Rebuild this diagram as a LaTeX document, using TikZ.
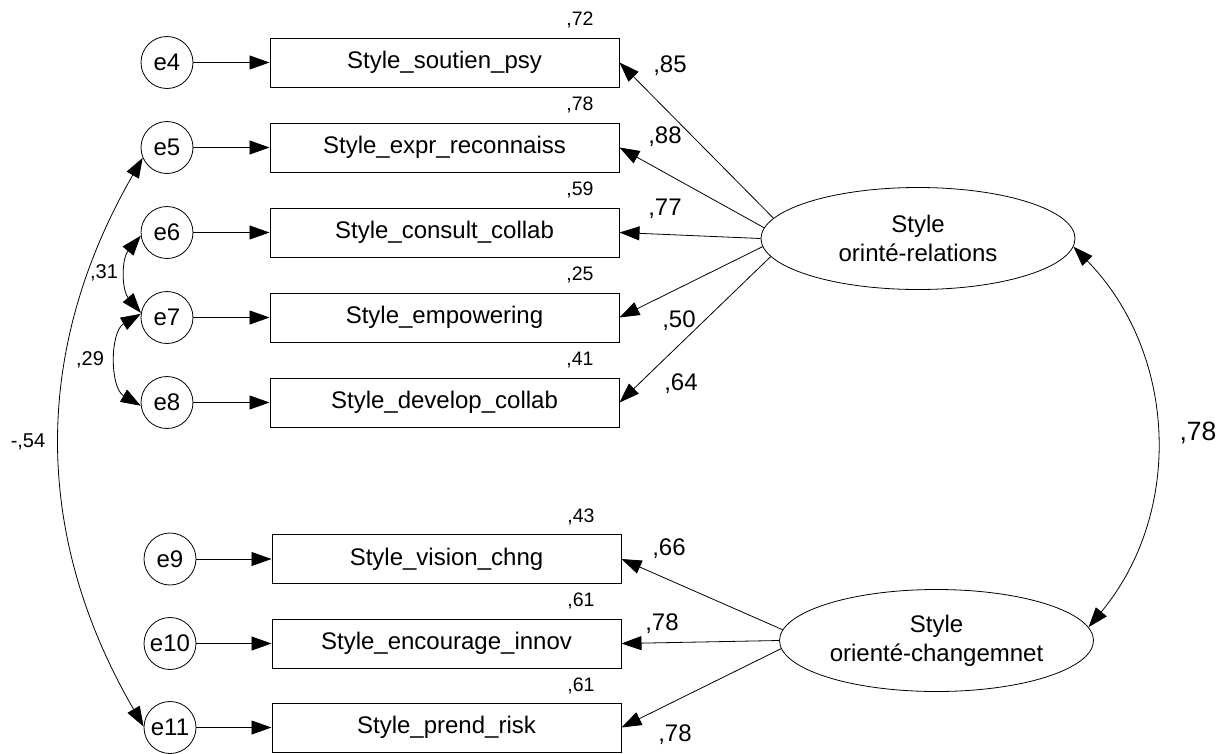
\documentclass[tikz,border=0pt]{standalone}
\usepackage{fontspec}
\setmainfont{Liberation Sans}
\usetikzlibrary{arrows.meta,shapes.geometric}
\begin{document}
\begin{tikzpicture}[x=1pt,y=-1pt,
  >={Triangle[length=20pt,width=14pt]},
  conn/.style={->,line width=0.8pt},
  cov/.style={<->,line width=0.8pt},
  obs/.style={draw,line width=1pt,minimum width=349pt,minimum height=49pt,inner sep=0pt,font=\fontsize{24}{29}\selectfont},
  err/.style={draw,circle,line width=0.8pt,minimum size=52pt,inner sep=0pt,font=\fontsize{24}{29}\selectfont},
  lat/.style={draw,ellipse,line width=0.8pt,minimum width=314pt,minimum height=102pt,inner sep=0pt,align=center,font=\fontsize{24}{29}\selectfont},
  rsq/.style={font=\fontsize{19.5}{22}\selectfont,inner sep=0pt},
  ld/.style={font=\fontsize{24}{28}\selectfont,inner sep=0pt},
  cl/.style={font=\fontsize{20}{24}\selectfont,inner sep=0pt},
  big/.style={font=\fontsize{26.5}{30}\selectfont,inner sep=0pt},
]
\useasboundingbox (0,0) rectangle (1227,753);

% error terms
\node[err] (e4) at (167,62.5) {e4};
\node[err] (e5) at (167,147.5) {e5};
\node[err] (e6) at (167,232.5) {e6};
\node[err] (e7) at (167,317.5) {e7};
\node[err] (e8) at (167,402.5) {e8};
\node[err] (e9) at (170,559) {e9};
\node[err] (e10) at (170,643.5) {e10};
\node[err] (e11) at (170,727.5) {e11};

% observed variables
\node[obs] (b4) at (444.5,62.5) {Style\_soutien\_psy};
\node[obs] (b5) at (444.5,147.5) {Style\_expr\_reconnaiss};
\node[obs] (b6) at (444.5,232.5) {Style\_consult\_collab};
\node[obs] (b7) at (444.5,317.5) {Style\_empowering};
\node[obs] (b8) at (444.5,402.5) {Style\_develop\_collab};
\node[obs] (b9) at (446.5,559) {Style\_vision\_chng};
\node[obs] (b10) at (446.5,643.5) {Style\_encourage\_innov};
\node[obs] (b11) at (446.5,727.5) {Style\_prend\_risk};

% latent variables
\node[lat] (rel) at (918,238.5) {Style\\orinté-relations};
\node[lat] (chg) at (936.5,640.5) {Style\\orienté-changemnet};

% error arrows
\foreach \i in {4,...,11} \draw[conn] (e\i) -- (b\i);

% loadings
\draw[conn] (rel.172.6) -- (b4.east);
\draw[conn] (rel.176.3) -- (b5.east);
\draw[conn] (rel.180) -- (b6.east);
\draw[conn] (rel.183.7) -- (b7.east);
\draw[conn] (rel.187.3) -- (b8.east);
\draw[conn] (chg.176.3) -- (b9.east);
\draw[conn] (chg.180) -- (b10.east);
\draw[conn] (chg.183.3) -- (b11.east);

% covariances
\draw[cov] (e5.203) to[bend right=30] (e11.178);
\draw[cov] (e6.187) to[bend right=40] (e7.170);
\draw[cov] (e7.172) to[bend right=60] (e8.187);
\draw[cov] (rel.-3) to[bend left=42] (chg.5);

% R squared
\node[rsq] (r4) at (580,20) {,72};
\node[rsq] (r5) at (580,105) {,78};
\node[rsq] (r6) at (580,190) {,59};
\node[rsq] (r7) at (580,275) {,25};
\node[rsq] (r8) at (580,360) {,41};
\node[rsq] (r9) at (581,517) {,43};
\node[rsq] (r10) at (581,601) {,61};
\node[rsq] (r11) at (581,686) {,61};

% loading labels
\node[ld] (l4) at (670,66) {,85};
\node[ld] (l5) at (665,137) {,88};
\node[ld] (l6) at (665,209) {,77};
\node[ld] (l7) at (679,321) {,50};
\node[ld] (l8) at (681,384) {,64};
\node[ld] (l9) at (669,549) {,66};
\node[ld] (l10) at (662,624) {,78};
\node[ld] (l11) at (675,735) {,78};

% covariance labels
\node[cl] (c67) at (104,273) {,31};
\node[cl] (c78) at (90,360) {,29};
\node[cl] (c511) at (28,442) {-,54};
\node[big] (crc) at (1198,433) {,78};
\end{tikzpicture}
\end{document}
